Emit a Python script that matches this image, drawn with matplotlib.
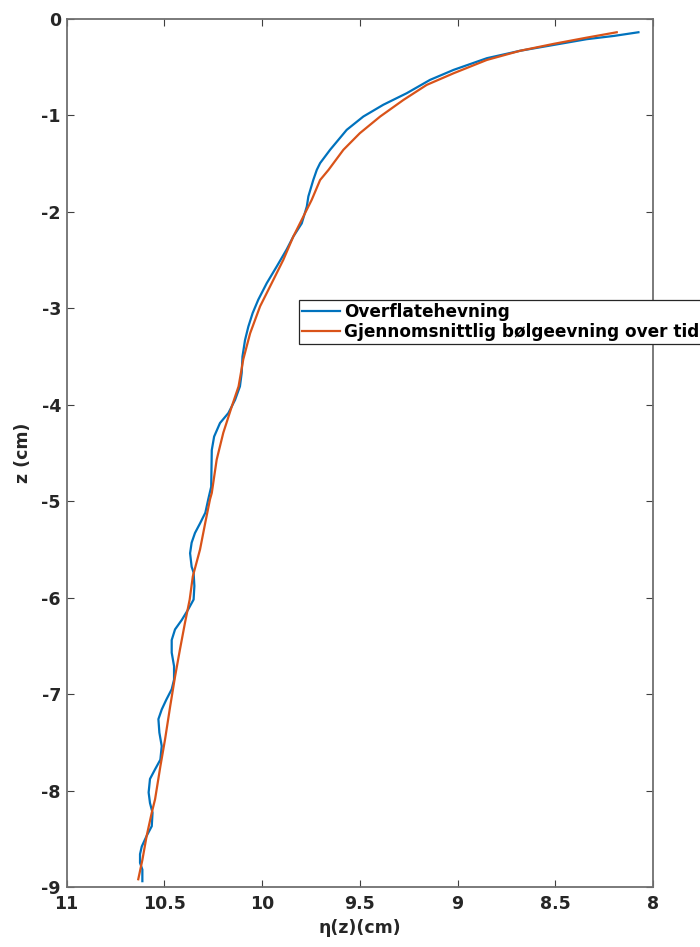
import matplotlib
matplotlib.use('Agg')
import matplotlib.pyplot as plt

# Measured surface elevation profile (eta in cm, depth z in cm).
eta_surface = [8.075, 8.20, 8.34, 8.51, 8.68, 8.85, 9.02, 9.141, 9.26, 9.38,
               9.482, 9.567, 9.652, 9.703, 9.72, 9.738, 9.763, 9.771, 9.797, 9.84,
               9.874, 9.925, 9.976, 10.019, 10.048, 10.07, 10.087, 10.10, 10.104, 10.113,
               10.138, 10.172, 10.215, 10.245, 10.257, 10.26, 10.275, 10.29, 10.317, 10.343,
               10.36, 10.368, 10.36, 10.35, 10.346, 10.35, 10.377, 10.41, 10.445, 10.462,
               10.462, 10.45, 10.45, 10.462, 10.49, 10.513, 10.53, 10.525, 10.513, 10.52,
               10.547, 10.573, 10.58, 10.573, 10.56, 10.564, 10.59, 10.615, 10.624, 10.624,
               10.612, 10.612]
z_surface = [-0.138, -0.176, -0.21, -0.27, -0.33, -0.407, -0.528, -0.632, -0.77, -0.89,
             -1.012, -1.15, -1.357, -1.495, -1.565, -1.67, -1.84, -1.945, -2.12, -2.256,
             -2.39, -2.567, -2.74, -2.91, -3.05, -3.19, -3.33, -3.50, -3.67, -3.81,
             -3.95, -4.086, -4.19, -4.33, -4.47, -4.85, -4.98, -5.12, -5.23, -5.33,
             -5.43, -5.54, -5.68, -5.74, -5.88, -6.02, -6.12, -6.23, -6.33, -6.44,
             -6.57, -6.71, -6.85, -6.95, -7.06, -7.16, -7.26, -7.40, -7.54, -7.68,
             -7.78, -7.88, -8.02, -8.13, -8.23, -8.37, -8.47, -8.58, -8.66, -8.75,
             -8.82, -8.94]

# Time-averaged wave elevation profile.
eta_mean = [8.186, 8.34, 8.51, 8.68, 8.85, 9.02, 9.158, 9.277, 9.396, 9.50,
            9.584, 9.66, 9.703, 9.746, 9.789, 9.84, 9.891, 9.942, 10.01, 10.061,
            10.096, 10.12, 10.155, 10.198, 10.232, 10.257, 10.266, 10.29, 10.317, 10.354,
            10.37, 10.394, 10.42, 10.445, 10.47, 10.496, 10.52, 10.547, 10.564, 10.59,
            10.612, 10.633]
z_mean = [-0.138, -0.194, -0.259, -0.33, -0.425, -0.563, -0.684, -0.84, -1.012, -1.185,
          -1.357, -1.565, -1.67, -1.876, -2.05, -2.256, -2.497, -2.705, -2.98, -3.26,
          -3.53, -3.81, -4.02, -4.29, -4.57, -4.915, -4.98, -5.22, -5.50, -5.78,
          -6.02, -6.26, -6.54, -6.82, -7.13, -7.47, -7.75, -8.09, -8.23, -8.47,
          -8.72, -8.92]

x_ticks = [11, 10.5, 10, 9.5, 9, 8.5, 8]
x_tick_labels = ['11', '10.5', '10', '9.5', '9', '8.5', '8']
y_ticks = list(range(-9, 1))

plt.rcParams['font.family'] = ['DejaVu Sans']
plt.rcParams['font.weight'] = 'bold'
plt.rcParams['axes.unicode_minus'] = False

fig = plt.figure(figsize=(7, 9.47), dpi=100)
ax = fig.add_axes([0.095, 0.0634, 0.838, 0.9166])

ax.plot(eta_surface, z_surface, color='#0072BD', lw=1.6, label='Overflatehevning')
ax.plot(eta_mean, z_mean, color='#D95319', lw=1.6, label='Gjennomsnittlig bølgeevning over tid')

ax.set_xlim(11, 8)
ax.set_ylim(-9, 0)
ax.set_xticks(x_ticks)
ax.set_xticklabels(x_tick_labels)
ax.set_yticks(y_ticks)

for s in ax.spines.values():
    s.set_color('#707070')
    s.set_linewidth(1.3)

ax.tick_params(direction='in', top=True, right=True, length=5, width=0.8,
               color='#404040', labelcolor='#262626', labelsize=12.5)
ax.tick_params(axis='x', pad=6)
ax.tick_params(axis='y', pad=4)
for lbl in ax.get_xticklabels() + ax.get_yticklabels():
    lbl.set_fontweight('bold')

ax.set_xlabel('η(z)(cm)', fontsize=12.5, fontweight='bold', color='#262626', labelpad=4)
ax.set_ylabel('z (cm)', fontsize=12.5, fontweight='bold', color='#262626', labelpad=7)

# legend box runs up to the right edge of the figure
leg = ax.legend(loc='upper left', bbox_to_anchor=(299 / 700, 1 - 300 / 947),
                bbox_transform=fig.transFigure, borderaxespad=0, fancybox=False,
                framealpha=1, edgecolor='#262626', handlelength=2.2,
                handletextpad=0.25, labelspacing=0.1, borderpad=0.2,
                prop={'weight': 'bold', 'size': 12.2})
leg.get_frame().set_linewidth(0.9)

fig.savefig('out.png', dpi=100)
